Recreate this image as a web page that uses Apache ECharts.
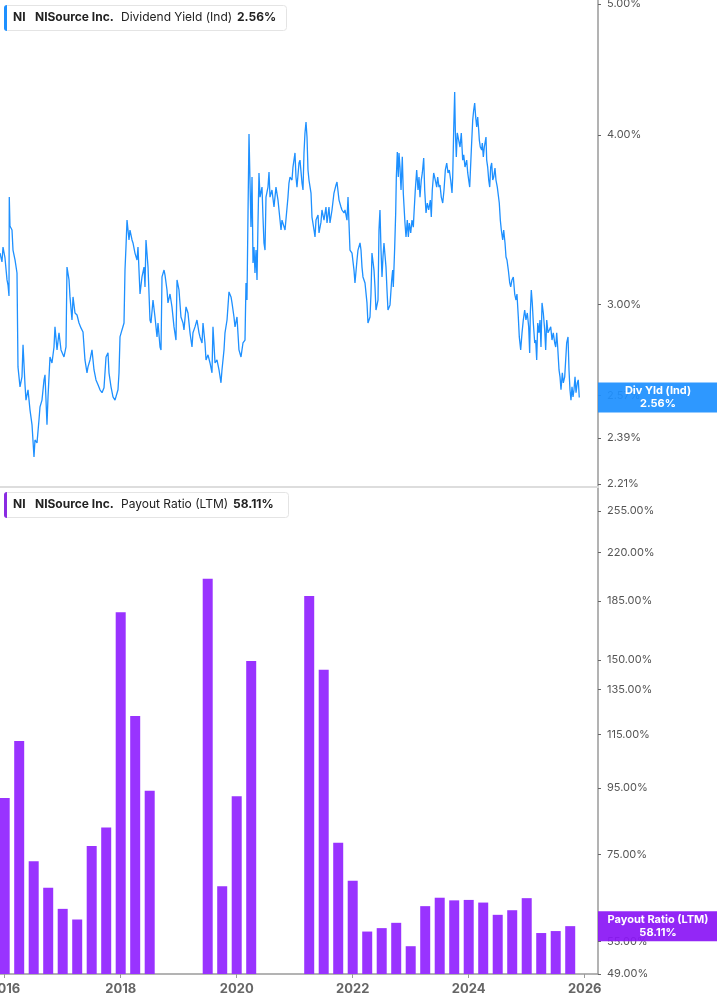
<!DOCTYPE html>
<html><head><meta charset="utf-8">
<script src="https://cdn.jsdelivr.net/npm/echarts@6/dist/echarts.min.js"></script>
<style>html,body{margin:0;padding:0;background:#fff;overflow:hidden}#c{width:717px;height:1005px}</style>
</head><body><div id="c"></div>
<script>
// ---- Dividend yield (Ind), % : dates as decimal years ----
const lineDates = [
2015.919,2015.953,2015.971,2016.005,2016.040,2016.057,2016.074,2016.079,2016.091,2016.126,2016.143,2016.178,2016.212,2016.229,2016.264,2016.298,2016.316,2016.350,2016.367,2016.402,
2016.436,2016.471,2016.505,2016.522,2016.557,2016.591,2016.609,2016.643,2016.678,2016.695,2016.729,2016.747,2016.781,2016.815,2016.850,2016.867,2016.902,2016.936,2016.971,2017.022,
2017.057,2017.074,2017.109,2017.126,2017.160,2017.178,2017.212,2017.247,2017.281,2017.315,2017.350,2017.384,2017.419,2017.436,2017.471,2017.505,2017.540,2017.574,2017.609,2017.643,
2017.678,2017.712,2017.747,2017.781,2017.798,2017.833,2017.867,2017.902,2017.953,2017.971,2017.988,2018.022,2018.057,2018.074,2018.091,2018.109,2018.143,2018.160,2018.195,2018.212,
2018.246,2018.281,2018.298,2018.333,2018.367,2018.402,2018.419,2018.436,2018.471,2018.505,2018.522,2018.557,2018.591,2018.626,2018.643,2018.678,2018.695,2018.712,2018.747,2018.764,
2018.798,2018.815,2018.850,2018.884,2018.919,2018.953,2018.971,2019.005,2019.039,2019.074,2019.091,2019.126,2019.160,2019.195,2019.229,2019.246,2019.281,2019.315,2019.350,
2019.367,2019.402,2019.419,2019.453,2019.471,2019.505,2019.540,2019.574,2019.591,2019.626,2019.660,2019.695,2019.729,2019.746,2019.781,2019.798,2019.833,2019.867,2019.902,2019.919,
2019.953,2019.971,2020.005,2020.039,2020.074,2020.108,2020.143,2020.160,2020.177,2020.195,2020.212,2020.229,2020.246,2020.264,2020.281,2020.298,2020.315,2020.333,2020.350,2020.367,
2020.384,2020.402,2020.436,2020.453,2020.470,2020.488,2020.505,2020.539,2020.557,2020.574,2020.608,2020.643,2020.677,2020.712,2020.729,2020.764,2020.781,2020.815,2020.833,
2020.884,2020.901,2020.919,2020.953,2020.970,2021.005,2021.022,2021.039,2021.074,2021.091,2021.126,2021.143,2021.160,2021.177,2021.195,2021.212,2021.229,2021.246,2021.281,2021.298,
2021.333,2021.350,2021.367,2021.402,2021.419,2021.453,2021.470,2021.505,2021.539,2021.557,2021.591,2021.608,2021.643,2021.677,2021.712,2021.729,2021.764,2021.798,2021.815,2021.850,
2021.867,2021.901,2021.919,2021.953,2021.988,2022.022,2022.039,2022.074,2022.091,2022.126,2022.143,2022.160,2022.177,2022.212,2022.246,2022.263,2022.298,2022.315,2022.332,2022.367,
2022.384,2022.401,2022.436,2022.453,2022.470,2022.488,2022.505,2022.522,2022.539,2022.574,2022.591,2022.608,2022.643,2022.672,2022.689,2022.700,2022.724,2022.741,2022.752,2022.769,
2022.786,2022.798,2022.815,2022.833,2022.855,2022.872,2022.901,2022.919,2022.941,2022.959,2022.976,2023.000,2023.022,2023.045,2023.057,2023.079,2023.103,2023.126,2023.143,2023.160,
2023.182,2023.200,2023.224,2023.241,2023.264,2023.286,2023.310,2023.338,2023.355,2023.372,2023.396,2023.424,2023.448,2023.465,2023.488,2023.505,2023.527,2023.552,2023.574,2023.597,
2023.621,2023.643,2023.665,2023.689,2023.712,2023.724,2023.741,2023.758,2023.769,2023.786,2023.803,2023.827,2023.850,2023.872,2023.896,2023.914,2023.936,2023.965,2023.983,2024.000,
2024.017,2024.045,2024.069,2024.086,2024.103,2024.120,2024.138,2024.155,2024.172,2024.183,2024.200,2024.224,2024.234,2024.252,2024.269,2024.298,2024.310,2024.327,2024.345,2024.362,
2024.379,2024.396,2024.414,2024.431,2024.453,2024.470,2024.493,2024.527,2024.545,2024.562,2024.586,2024.603,2024.626,2024.643,2024.660,2024.683,2024.707,2024.724,2024.746,2024.769,
2024.793,2024.815,2024.832,2024.855,2024.872,2024.896,2024.919,2024.941,2024.965,2024.987,2025.010,2025.034,2025.051,2025.062,2025.079,2025.096,2025.114,2025.138,2025.155,2025.172,
2025.190,2025.212,2025.229,2025.246,2025.264,2025.286,2025.310,2025.327,2025.345,2025.367,2025.389,2025.414,2025.436,2025.458,2025.483,2025.500,2025.517,2025.534,2025.557,2025.574,
2025.591,2025.614,2025.631,2025.655,2025.689,2025.712,2025.729,2025.746,2025.763,2025.781,2025.798,2025.815,2025.833,2025.850,2025.872,2025.889,2025.906
];
const lineYield = [
3.273,3.224,3.307,3.246,3.127,3.100,3.043,3.600,3.427,3.404,3.290,3.235,3.164,2.697,2.607,2.652,2.800,2.616,2.549,2.594,
2.507,2.444,2.314,2.382,2.370,2.464,2.520,2.549,2.638,2.661,2.444,2.563,2.743,2.715,2.790,2.887,2.776,2.858,2.776,2.743,
2.790,3.196,3.127,3.038,2.921,3.038,2.956,2.946,2.906,2.882,2.862,2.729,2.670,2.697,2.729,2.776,2.683,2.638,2.616,2.594,
2.581,2.603,2.743,2.762,2.670,2.607,2.563,2.549,2.594,2.670,2.838,2.872,2.906,3.180,3.307,3.462,3.347,3.404,3.347,3.330,
3.273,3.235,3.307,3.053,3.143,3.196,3.090,3.347,3.196,2.921,2.906,3.022,2.936,2.838,2.906,2.790,2.776,3.143,3.180,3.153,
3.074,3.007,3.053,2.987,2.887,2.823,3.127,3.074,2.936,2.906,2.872,2.987,2.956,2.858,2.790,2.858,2.887,2.921,2.858,
2.838,2.809,2.906,2.809,2.729,2.753,2.715,2.670,2.887,2.715,2.729,2.683,2.625,2.683,2.776,2.858,2.921,3.064,3.038,3.007,
2.936,2.887,2.936,2.776,2.743,2.809,2.823,3.111,3.022,3.504,4.008,4.015,3.421,3.725,3.218,3.307,3.164,3.290,3.127,3.445,
3.751,3.600,3.662,3.480,3.330,3.290,3.600,3.662,3.757,3.600,3.644,3.540,3.662,3.582,3.522,3.404,3.462,3.462,3.404,
3.600,3.687,3.725,3.706,3.789,3.881,3.725,3.662,3.815,3.834,3.687,3.644,3.881,4.015,4.090,3.987,3.770,3.706,3.625,3.480,
3.404,3.364,3.462,3.492,3.387,3.450,3.522,3.462,3.540,3.445,3.540,3.445,3.522,3.625,3.675,3.694,3.582,3.540,3.522,3.504,
3.522,3.462,3.600,3.290,3.273,3.180,3.111,3.235,3.290,3.330,3.290,3.196,3.143,3.111,3.007,2.906,2.936,3.053,3.273,3.180,
3.090,2.971,3.022,3.404,3.522,3.290,3.143,3.251,3.330,3.196,3.074,2.971,2.997,3.127,3.180,3.090,3.307,3.504,3.725,3.887,
3.725,3.881,3.789,3.644,3.855,3.625,3.445,3.364,3.462,3.364,3.445,3.387,3.462,3.421,3.504,3.644,3.770,3.644,3.725,3.600,
3.706,3.751,3.847,3.644,3.504,3.564,3.522,3.582,3.480,3.644,3.751,3.706,3.662,3.725,3.662,3.675,3.600,3.564,3.644,3.770,
3.815,3.751,3.770,3.706,3.625,3.725,4.035,4.304,4.035,3.855,4.015,3.967,3.920,4.015,3.834,3.868,3.789,3.834,3.751,3.706,
3.662,3.900,4.104,4.175,4.224,4.126,4.056,4.126,4.035,3.967,3.920,3.900,3.947,3.855,3.920,3.987,3.834,3.789,3.706,3.662,
3.789,3.815,3.706,3.725,3.783,3.706,3.662,3.564,3.462,3.404,3.347,3.404,3.330,3.251,3.235,3.180,3.111,3.090,3.127,3.143,
3.053,3.022,3.053,2.936,2.838,2.776,2.858,2.921,2.971,2.921,2.956,2.887,2.762,2.956,3.074,3.007,2.906,2.809,2.823,2.729,
2.906,2.858,2.921,2.790,3.007,2.956,2.872,2.776,2.921,2.858,2.872,2.887,2.823,2.858,2.809,2.790,2.858,2.790,2.683,2.652,
2.594,2.670,2.625,2.652,2.809,2.838,2.683,2.594,2.549,2.607,2.563,2.594,2.652,2.581,2.625,2.638,2.560
];

// ---- Payout ratio (LTM), % : quarter ends as decimal years (null = not shown) ----
const barDates = [
2016.00,2016.25,2016.50,2016.75,2017.00,2017.25,2017.50,2017.75,2018.00,2018.25,2018.50,2018.75,
2019.00,2019.25,2019.50,2019.75,2020.00,2020.25,2020.50,2020.75,2021.00,2021.25,2021.50,2021.75,
2022.00,2022.25,2022.50,2022.75,2023.00,2023.25,2023.50,2023.75,2024.00,2024.25,2024.50,2024.75,
2025.00,2025.25,2025.50,2025.75
];
const barPayout = [
91.7,112.4,73.2,66.6,61.8,59.5,77.3,82.6,177.8,122.9,94.1,null,
null,null,200.3,67.0,92.3,149.4,null,null,null,188.4,144.9,78.2,
68.3,57.0,57.7,58.8,54.1,62.4,64.3,63.7,63.8,63.2,60.5,61.5,
64.2,56.7,57.1,58.11
];

const yieldTicks = [2.21, 2.39, 2.57, 3.00, 4.00, 5.00];
const payoutTicks = [49, 55, 75, 95, 115, 135, 150, 185, 220, 255];
const yearTicks = [2016, 2018, 2020, 2022, 2024, 2026];
const lastYield = 2.56;
const lastPayout = 58.11;

const FONT = 'Inter, "Noto Sans", sans-serif';
const BLUE = '#1E90FF';
const PURPLE = '#9933FF';
const X_MIN = 2015.919, X_MAX = 2026.229;
const PAYOUT_MIN = 49, PAYOUT_MAX = 276.8;

const lineData = [];
for (let i = 0; i < Math.min(lineDates.length, lineYield.length); i++) lineData.push([lineDates[i], lineYield[i]]);
const barData = [];
for (let i = 0; i < barDates.length; i++) if (barPayout[i] != null) barData.push([barDates[i], barPayout[i]]);

const chart = echarts.init(document.getElementById('c'));

function yAxisCommon(ticks) {
  return {
    position: 'right',
    axisLine: {show: true, lineStyle: {color: '#9a9a9a', width: 1.5}},
    axisTick: {show: true, customValues: ticks, length: 3, lineStyle: {color: '#666'}},
    axisLabel: {customValues: ticks, formatter: v => Number(v).toFixed(2) + '%', color: '#555',
      fontSize: 11, fontFamily: FONT, margin: 9},
    splitLine: {show: false}
  };
}

function renderBar(params, api) {
  const x = api.value(0), v = api.value(1);
  const top = api.coord([x, v]);
  const base = api.coord([x, PAYOUT_MIN]);
  return {type: 'rect', shape: {x: top[0] - 5, y: top[1], width: 10, height: base[1] - top[1]},
    style: {fill: PURPLE}};
}

chart.setOption({
  animation: false,
  backgroundColor: '#fff',
  grid: [
    {left: 0, right: 119, top: 0, height: 487, containLabel: false, outerBoundsMode: 'none'},
    {left: 0, right: 119, top: 488, bottom: 31, containLabel: false, outerBoundsMode: 'none'}
  ],
  xAxis: [
    {type: 'value', gridIndex: 0, min: X_MIN, max: X_MAX,
     axisLine: {show: true, lineStyle: {color: '#dddddd', width: 2}},
     axisTick: {show: false}, axisLabel: {show: false}, splitLine: {show: false}},
    {type: 'value', gridIndex: 1, min: X_MIN, max: X_MAX,
     axisLine: {show: true, lineStyle: {color: '#9a9a9a', width: 1.5}},
     axisTick: {show: true, customValues: yearTicks, length: 4, lineStyle: {color: '#9a9a9a'}},
     axisLabel: {customValues: yearTicks, formatter: v => String(Math.round(v)), color: '#666',
       fontWeight: 'bold', fontSize: 13, fontFamily: FONT, margin: 9},
     splitLine: {show: false}}
  ],
  yAxis: [
    Object.assign({type: 'log', gridIndex: 0, min: 2.1987, max: 5.034}, yAxisCommon(yieldTicks)),
    Object.assign({type: 'log', gridIndex: 1, min: PAYOUT_MIN, max: PAYOUT_MAX}, yAxisCommon(payoutTicks))
  ],
  series: [
    {type: 'line', xAxisIndex: 0, yAxisIndex: 0, data: lineData, showSymbol: false, silent: true,
     lineStyle: {color: BLUE, width: 1.3}, itemStyle: {color: BLUE}},
    {type: 'custom', xAxisIndex: 1, yAxisIndex: 1, data: barData, silent: true, clip: true,
     renderItem: renderBar, encode: {x: 0, y: 1}}
  ]
});

const yY = chart.convertToPixel({yAxisIndex: 0}, lastYield);
const yP = chart.convertToPixel({yAxisIndex: 1}, lastPayout);

function legend(y, color, metric, value, valueX, width) {
  const t = (x, text, bold) => ({type: 'text', x: x, y: y + 12.5, z: 102,
    style: {text: text, fontSize: 12, fontWeight: bold ? 'bold' : 'normal', fontFamily: FONT,
      fill: '#222', verticalAlign: 'middle', align: 'left'}});
  return [
    {type: 'rect', z: 100, shape: {x: 4.5, y: y + 0.5, width: width, height: 25, r: 3},
     style: {fill: '#fff', stroke: '#e4e4e4', lineWidth: 1}},
    {type: 'rect', z: 101, shape: {x: 4, y: y, width: 3, height: 26, r: [3, 0, 0, 3]}, style: {fill: color}},
    t(13, 'NI', true), t(35, 'NISource Inc.', true), t(121, metric, false), t(valueX, value, true)
  ];
}
function endBox(y, color, text) {
  return [
    {type: 'rect', z: 110, shape: {x: 598, y: y - 15, width: 119, height: 30},
     style: {fill: color, opacity: 0.93}},
    {type: 'text', z: 111, x: 658, y: y, style: {text: text, fontSize: 11, fontWeight: 'bold',
      fontFamily: FONT, fill: '#fff', align: 'center', verticalAlign: 'middle', lineHeight: 13}}
  ];
}

chart.setOption({
  graphic: [].concat(
    legend(5, BLUE, 'Dividend Yield (Ind)', lastYield.toFixed(2) + '%', 237, 282),
    legend(492, '#8A2BE2', 'Payout Ratio (LTM)', lastPayout.toFixed(2) + '%', 233, 284),
    endBox(yY, BLUE, 'Div Yld (Ind)\n' + lastYield.toFixed(2) + '%'),
    endBox(yP, '#8B17F5', 'Payout Ratio (LTM)\n' + lastPayout.toFixed(2) + '%')
  )
});
</script>
</body></html>
